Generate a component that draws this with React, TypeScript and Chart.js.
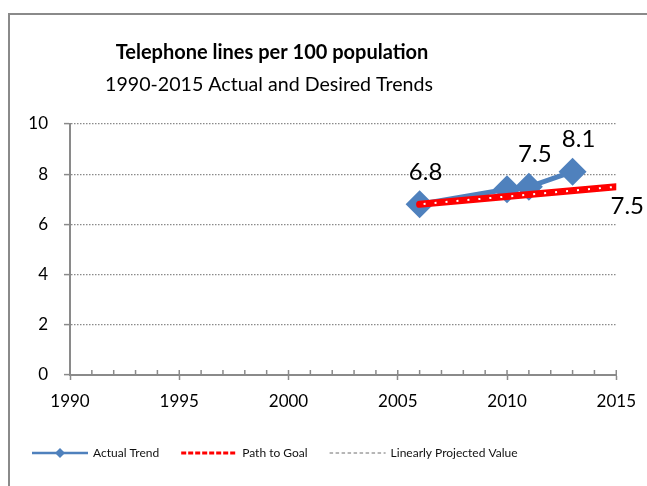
import React, { useEffect, useRef } from 'react';
import { Chart, registerables } from 'chart.js';

Chart.register(...registerables);

// ---------- data ----------
const TITLE = 'Telephone lines per 100 population';
const SUBTITLE = '1990-2015 Actual and Desired Trends';

const actualYears = [2006, 2010, 2011, 2013];
const actualValues = [6.8, 7.4, 7.5, 8.1];
const actualLabelShown = [true, false, true, true];

const goalYears = [2006, 2015];
const goalValues = [6.8, 7.5];
const goalLabelShown = [false, true];

const projectedYears: number[] = [];
const projectedValues: number[] = [];

const xTickYears = [1990, 1995, 2000, 2005, 2010, 2015];
const yTickValues = [0, 2, 4, 6, 8, 10];

// ---------- styles ----------
const FONT = 'Lato, "Open Sans", sans-serif';
const AXIS_GRAY = '#8a8a8a';
const BLUE = '#4F81BD';
const RED = '#FF0000';
const GRAY = '#6F6F6F';

const toPoints = (xs: number[], ys: number[]) => xs.map((x, i) => ({ x, y: ys[i] }));

const framePlugin = {
  id: 'frame',
  beforeDraw(chart: any) {
    const ctx = chart.ctx;
    ctx.save();
    ctx.fillStyle = '#ffffff';
    ctx.fillRect(0, 0, chart.width, chart.height);
    ctx.strokeStyle = AXIS_GRAY;
    ctx.lineWidth = 2;
    ctx.strokeRect(9, 14, chart.width + 40, chart.height + 40);
    ctx.restore();
  },
};

const titlePlugin = {
  id: 'titles',
  afterDraw(chart: any) {
    const ctx = chart.ctx;
    ctx.save();
    ctx.fillStyle = '#000';
    ctx.textAlign = 'center';
    ctx.textBaseline = 'middle';
    ctx.font = `bold 20px ${FONT}`;
    ctx.fillText(TITLE, 272, 53);
    ctx.font = `19.6px ${FONT}`;
    ctx.fillText(SUBTITLE, 269, 85);
    ctx.restore();
  },
};

const minorTickPlugin = {
  id: 'minorTicks',
  beforeDatasetsDraw(chart: any) {
    const xs = chart.scales.x;
    const ctx = chart.ctx;
    const yb = chart.chartArea.bottom;
    ctx.save();
    ctx.strokeStyle = AXIS_GRAY;
    ctx.lineWidth = 1.5;
    for (let v = xs.min; v <= xs.max; v += 1) {
      const px = xs.getPixelForValue(v);
      ctx.beginPath();
      ctx.moveTo(px, yb - 5);
      ctx.lineTo(px, yb);
      ctx.stroke();
    }
    ctx.restore();
  },
};

const dotsPlugin = {
  id: 'goalDots',
  afterDatasetsDraw(chart: any) {
    const meta = chart.getDatasetMeta(1);
    const pts = meta.data;
    if (!pts || pts.length < 2) return;
    const ctx = chart.ctx;
    ctx.save();
    ctx.strokeStyle = '#ffffff';
    ctx.lineWidth = 2;
    ctx.setLineDash([2, 9]);
    ctx.lineDashOffset = -4;
    ctx.beginPath();
    ctx.moveTo(pts[0].x, pts[0].y);
    for (let i = 1; i < pts.length; i++) ctx.lineTo(pts[i].x, pts[i].y);
    ctx.stroke();
    ctx.restore();
  },
};

const labelPlugin = {
  id: 'valueLabels',
  afterDatasetsDraw(chart: any) {
    const ctx = chart.ctx;
    ctx.save();
    ctx.fillStyle = '#000';
    ctx.textAlign = 'center';
    ctx.textBaseline = 'middle';
    ctx.font = `24px ${FONT}`;
    chart.data.datasets.forEach((ds: any, di: number) => {
      if (!ds.labelShown) return;
      const meta = chart.getDatasetMeta(di);
      meta.data.forEach((el: any, i: number) => {
        if (!ds.labelShown[i]) return;
        const v = ds.data[i].y;
        ctx.fillText(v.toFixed(1), el.x + ds.labelDx, el.y + ds.labelDy);
      });
    });
    ctx.restore();
  },
};

const legendPlugin = {
  id: 'customLegend',
  afterDraw(chart: any) {
    const ctx = chart.ctx;
    const y = 453;
    let x = 32;
    ctx.save();
    ctx.font = `12px ${FONT}`;
    ctx.textBaseline = 'middle';
    ctx.textAlign = 'left';
    chart.data.datasets.forEach((ds: any) => {
      const w = 56;
      ctx.save();
      ctx.strokeStyle = ds.borderColor;
      ctx.lineWidth = ds.legendLineWidth;
      ctx.setLineDash(ds.legendDash || []);
      ctx.beginPath();
      ctx.moveTo(x, y);
      ctx.lineTo(x + w, y);
      ctx.stroke();
      if (ds.legendMarker) {
        const r = 5;
        const cx = x + w / 2;
        ctx.fillStyle = ds.borderColor;
        ctx.beginPath();
        ctx.moveTo(cx - r, y);
        ctx.lineTo(cx, y - r);
        ctx.lineTo(cx + r, y);
        ctx.lineTo(cx, y + r);
        ctx.closePath();
        ctx.fill();
      }
      ctx.restore();
      ctx.fillStyle = '#111';
      ctx.fillText(ds.label, x + w + 5, y);
      x += w + 5 + ctx.measureText(ds.label).width + 22;
    });
    ctx.restore();
  },
};

export default function App() {
  const ref = useRef<HTMLCanvasElement | null>(null);

  useEffect(() => {
    if (!ref.current) return;
    const chart = new Chart(ref.current, {
      type: 'line',
      data: {
        datasets: [
          {
            label: 'Actual Trend',
            data: toPoints(actualYears, actualValues),
            borderColor: BLUE,
            backgroundColor: BLUE,
            borderWidth: 5,
            pointStyle: 'rectRot',
            pointRadius: 14,
            pointBorderWidth: 0,
            pointBackgroundColor: BLUE,
            pointBorderColor: BLUE,
            fill: false,
            order: 2,
            labelShown: actualLabelShown,
            labelDx: 6,
            labelDy: -32,
            legendLineWidth: 2.5,
            legendMarker: true,
          } as any,
          {
            label: 'Path to Goal',
            data: toPoints(goalYears, goalValues),
            borderColor: RED,
            backgroundColor: RED,
            borderWidth: 7,
            borderCapStyle: 'round',
            pointRadius: 0,
            fill: false,
            order: 0,
            labelShown: goalLabelShown,
            labelDx: 11,
            labelDy: 20,
            legendLineWidth: 3,
            legendDash: [5, 2],
          } as any,
          {
            label: 'Linearly Projected Value',
            data: toPoints(projectedYears, projectedValues),
            borderColor: GRAY,
            backgroundColor: GRAY,
            borderWidth: 1,
            borderDash: [3.5, 2.5],
            pointRadius: 0,
            fill: false,
            order: 1,
            legendLineWidth: 1,
            legendDash: [3.5, 2.5],
          } as any,
        ],
      },
      options: {
        animation: false,
        responsive: false,
        devicePixelRatio: 1,
        layout: { padding: { top: 124, right: 30, bottom: 0, left: 0 } },
        plugins: {
          legend: { display: false },
          title: { display: false },
          tooltip: { enabled: false },
        },
        scales: {
          x: {
            type: 'linear',
            min: xTickYears[0],
            max: xTickYears[xTickYears.length - 1],
            afterFit: (s: any) => { s.height = 111; },
            afterBuildTicks: (s: any) => { s.ticks = xTickYears.map((v) => ({ value: v })); },
            ticks: {
              font: { family: FONT, size: 17 },
              color: '#000',
              padding: 11,
              maxRotation: 0,
              callback: (v: any) => String(v),
            },
            grid: {
              drawOnChartArea: false,
              drawTicks: true,
              tickLength: 5,
              tickColor: AXIS_GRAY,
              tickWidth: 1.5,
              color: AXIS_GRAY,
            },
            border: { display: true, color: AXIS_GRAY, width: 2 },
          },
          y: {
            type: 'linear',
            min: yTickValues[0],
            max: yTickValues[yTickValues.length - 1],
            afterFit: (s: any) => { s.width = 70; },
            afterBuildTicks: (s: any) => { s.ticks = yTickValues.map((v) => ({ value: v })); },
            ticks: {
              font: { family: FONT, size: 17 },
              color: '#000',
              padding: 16,
            },
            grid: {
              drawTicks: true,
              tickLength: 6,
              tickColor: AXIS_GRAY,
              tickWidth: 1.5,
              tickBorderDash: [],
              lineWidth: 1.2,
              color: (c: any) => (c.tick && c.tick.value === 0 ? 'rgba(0,0,0,0)' : '#8a8a8a'),
            },
            border: { display: true, color: AXIS_GRAY, width: 2, dash: [1.5, 1.5] },
          },
        },
      },
      plugins: [framePlugin, minorTickPlugin, dotsPlugin, labelPlugin, titlePlugin, legendPlugin],
    });
    return () => chart.destroy();
  }, []);

  return (
    <div style={{ position: 'absolute', left: 0, top: 0, width: 647, height: 486, overflow: 'hidden' }}>
      <canvas ref={ref} width={647} height={486} style={{ display: 'block' }} />
    </div>
  );
}
